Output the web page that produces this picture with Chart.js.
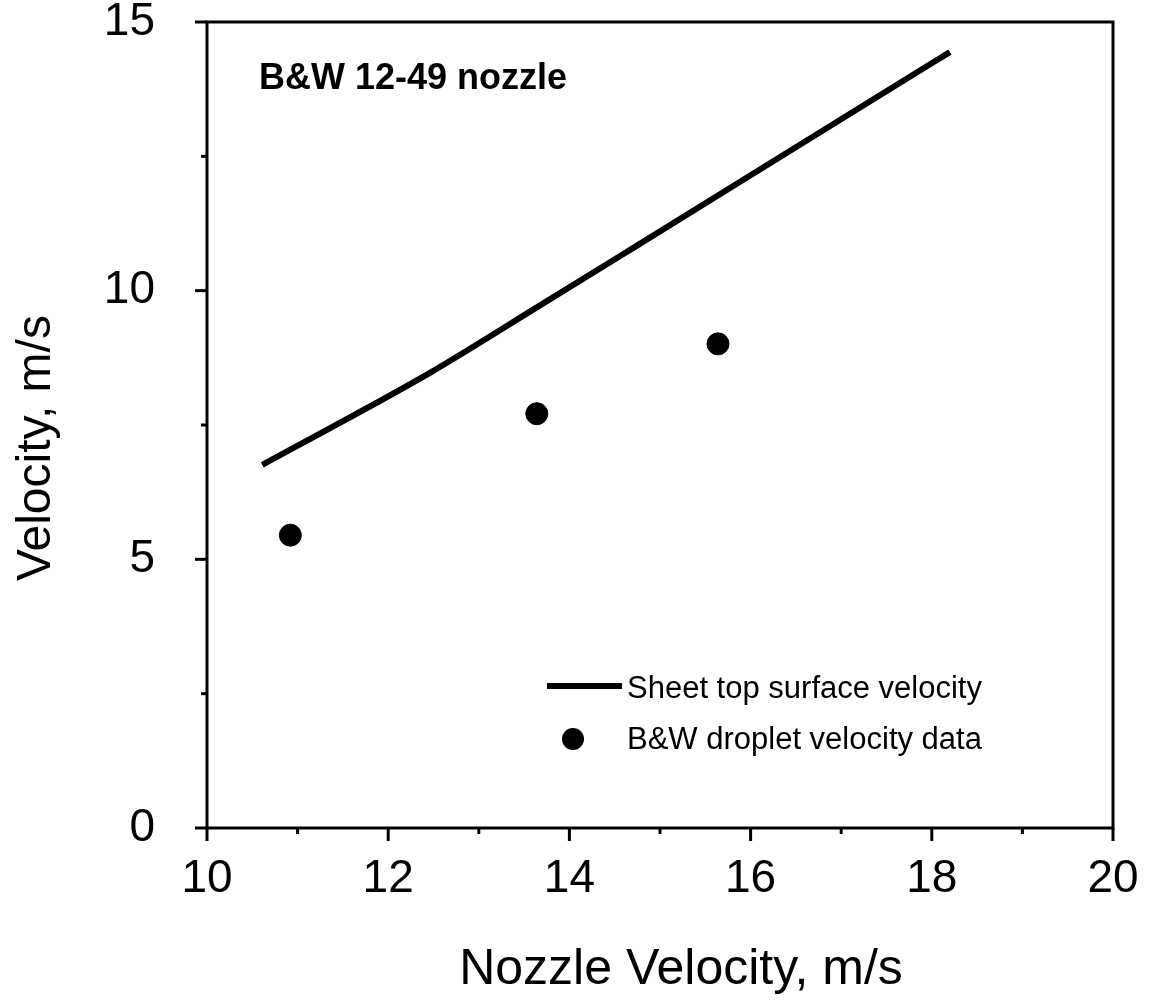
<!DOCTYPE html>
<html>
<head>
<meta charset="utf-8">
<script src="https://cdn.jsdelivr.net/npm/chart.js@4.4.0/dist/chart.umd.min.js"></script>
<style>
  body { margin: 0; background: #fff; }
</style>
</head>
<body>
<canvas id="velGraph" width="1155" height="1002"></canvas>
<script>
'use strict';

// curva: velocidad de la superficie superior de la lamina
var lineX = [10.61, 12.46, 13.68, 14.67, 17.65, 18.20];
var lineY = [6.76, 8.47, 9.73, 10.76, 13.87, 14.44];

// datos medidos de velocidad de gotas
var dropX = [10.92, 13.64, 15.64];
var dropY = [5.45, 7.71, 9.01];

var xTicks = [10, 12, 14, 16, 18, 20];
var yTicks = [0, 5, 10, 15];

var labelLine = 'Sheet top surface velocity';
var labelDrop = 'B&W droplet velocity data';
var notaTexto = 'B&W 12-49 nozzle';
var tituloX = 'Nozzle Velocity, m/s';
var tituloY = 'Velocity, m/s';

var fuente = '"Liberation Sans", Arial, Helvetica, sans-serif';

var linePts = [];
for (var i = 0; i < lineX.length; i++) {
  linePts.push({x: lineX[i], y: lineY[i]});
}
var dropPts = [];
for (var j = 0; j < dropX.length; j++) {
  dropPts.push({x: dropX[j], y: dropY[j]});
}

function raya(ctx, x1, y1, x2, y2) {
  ctx.beginPath();
  ctx.moveTo(x1, y1);
  ctx.lineTo(x2, y2);
  ctx.stroke();
}

var marcoPlugin = {
  id: 'marco',
  beforeDraw: function (chart) {
    var ctx = chart.ctx;
    ctx.save();
    ctx.fillStyle = '#fff';
    ctx.fillRect(0, 0, chart.width, chart.height);
    ctx.restore();
  },
  afterDraw: function (chart) {
    var ctx = chart.ctx;
    var a = chart.chartArea;
    var sx = chart.scales.x;
    var sy = chart.scales.y;
    ctx.save();
    ctx.strokeStyle = '#000';
    ctx.fillStyle = '#000';
    ctx.lineWidth = 3;
    ctx.strokeRect(a.left, a.top, a.right - a.left, a.bottom - a.top);

    // marcas de los ejes (mayores y menores)
    for (var v = 10; v <= 20; v++) {
      var px = sx.getPixelForValue(v);
      raya(ctx, px, a.bottom, px, a.bottom + (v % 2 === 0 ? 13 : 6));
    }
    for (var w = 0; w <= 15; w += 2.5) {
      var py = sy.getPixelForValue(w);
      raya(ctx, a.left - (w % 5 === 0 ? 12 : 6), py, a.left, py);
    }

    // titulos de los ejes
    ctx.font = '50px ' + fuente;
    ctx.textAlign = 'center';
    ctx.textBaseline = 'alphabetic';
    ctx.fillText(tituloX, 681, 984);
    ctx.font = '48px ' + fuente;
    ctx.save();
    ctx.translate(50, 448);
    ctx.rotate(-Math.PI / 2);
    ctx.fillText(tituloY, 0, 0);
    ctx.restore();

    // nota
    ctx.font = 'bold 36px ' + fuente;
    ctx.textAlign = 'left';
    ctx.fillText(notaTexto, 259, 89);

    // leyenda
    ctx.lineWidth = 6;
    raya(ctx, 547, 686, 622, 686);
    ctx.beginPath();
    ctx.arc(573, 739, 11, 0, Math.PI * 2);
    ctx.fill();
    ctx.font = '31px ' + fuente;
    ctx.textBaseline = 'middle';
    ctx.fillText(labelLine, 627, 689);
    ctx.fillText(labelDrop, 627, 740);
    ctx.restore();
  }
};

var ctx = document.getElementById('velGraph').getContext('2d');
var myChart = new Chart(ctx, {
  type: 'scatter',
  data: {
    datasets: [{
      label: labelLine,
      data: linePts,
      showLine: true,
      borderColor: '#000',
      borderWidth: 6,
      pointRadius: 0,
      cubicInterpolationMode: 'monotone',
      fill: false
    }, {
      label: labelDrop,
      data: dropPts,
      showLine: false,
      backgroundColor: '#000',
      borderColor: '#000',
      pointRadius: 11,
      pointHoverRadius: 11
    }]
  },
  options: {
    responsive: false,
    animation: false,
    events: [],
    layout: { padding: { top: 22, right: 42, left: 0, bottom: 0 } },
    plugins: {
      legend: { display: false },
      tooltip: { enabled: false }
    },
    scales: {
      x: {
        type: 'linear',
        min: 10,
        max: 20,
        afterFit: function (scale) {
          scale.height = 174;
          scale.paddingLeft = 0;
          scale.paddingRight = 0;
        },
        afterBuildTicks: function (scale) {
          scale.ticks = xTicks.map(function (t) { return {value: t}; });
        },
        grid: { display: false },
        border: { display: false },
        ticks: {
          color: '#000',
          padding: 16,
          maxRotation: 0,
          font: { family: fuente, size: 46 }
        }
      },
      y: {
        type: 'linear',
        min: 0,
        max: 15,
        afterFit: function (scale) {
          scale.width = 207;
          scale.paddingTop = 0;
          scale.paddingBottom = 0;
        },
        afterBuildTicks: function (scale) {
          scale.ticks = yTicks.map(function (t) { return {value: t}; });
        },
        grid: { display: false },
        border: { display: false },
        ticks: {
          color: '#000',
          padding: 44,
          font: { family: fuente, size: 46 }
        }
      }
    }
  },
  plugins: [marcoPlugin]
});
</script>
</body>
</html>
